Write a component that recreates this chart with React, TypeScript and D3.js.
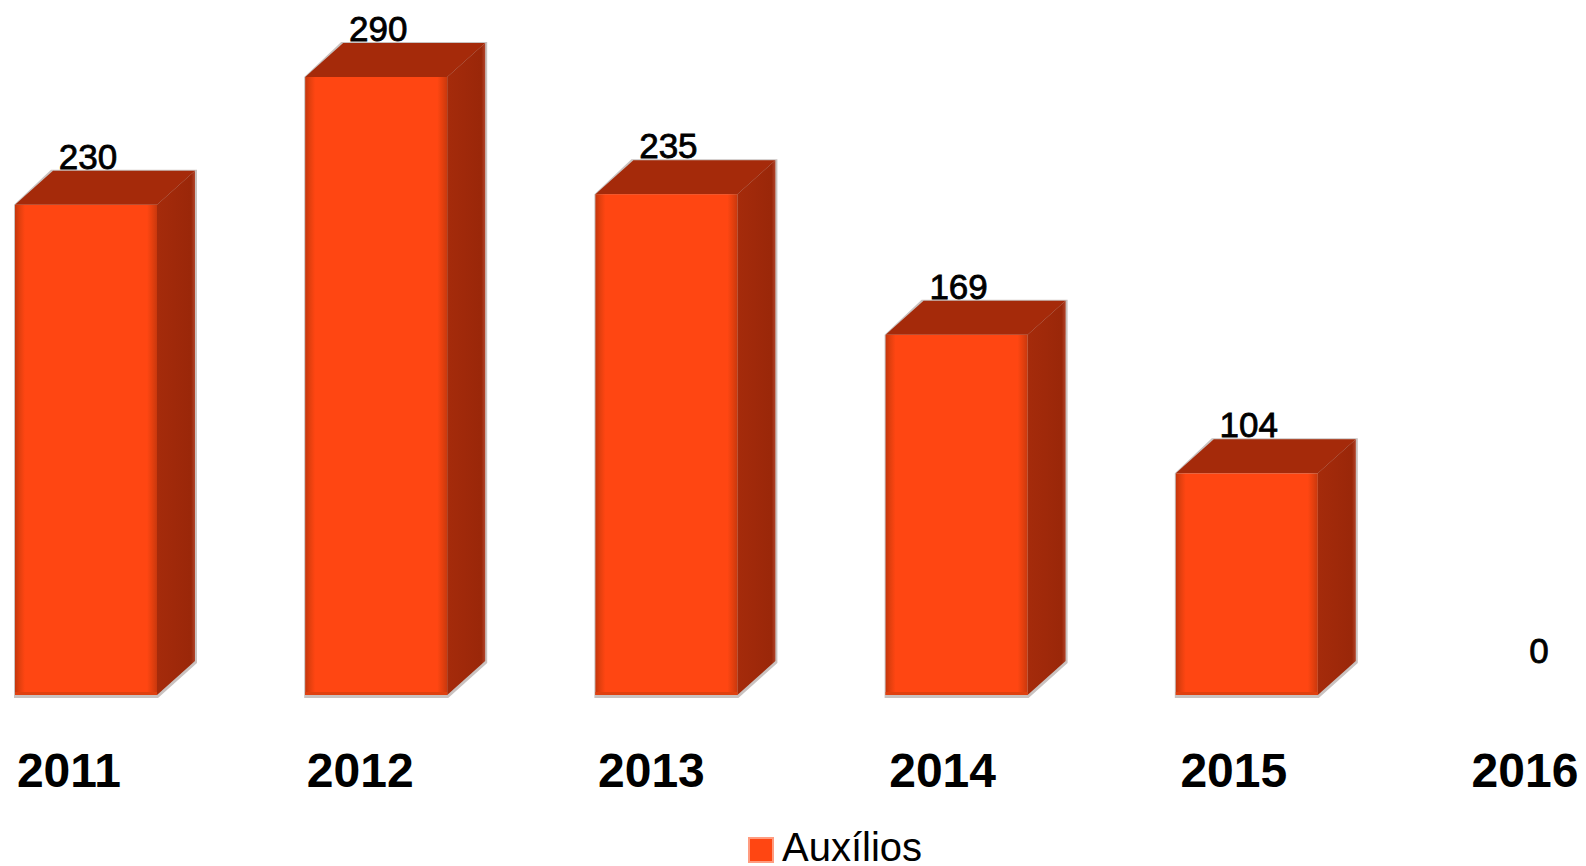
import React from "react";
import * as d3 from "d3";

const categories: string[] = ["2011", "2012", "2013", "2014", "2015", "2016"];
const values: number[] = [230, 290, 235, 169, 104, 0];
const seriesName = "Auxílios";

const W = 1586;
const H = 866;
const baseY = 695;
const depthX = 38;
const depthY = 34;

export default function App() {
  const x = d3
    .scaleBand<string>()
    .domain(categories)
    .range([15, 15 + 5 * 290.2 + 142])
    .paddingInner(1 - 142 / 290.2)
    .paddingOuter(0);
  const xl = d3.scalePoint<string>().domain(categories).range([69, 1525]);
  const y = d3.scaleLinear().domain([0, 290]).range([baseY, 77]);
  const bw = x.bandwidth();

  return (
    <svg
      width={W}
      height={H}
      style={{ position: "absolute", left: 0, top: 0, background: "#fff" }}
      fontFamily="'Liberation Sans', Arial, sans-serif"
    >
      <defs>
        <linearGradient id="front" x1="0" x2="1" y1="0" y2="0">
          <stop offset="0" stopColor="#C4360C" />
          <stop offset="0.035" stopColor="#E5400F" />
          <stop offset="0.07" stopColor="#FF4612" />
          <stop offset="0.93" stopColor="#FF4612" />
          <stop offset="0.965" stopColor="#E5400F" />
          <stop offset="1" stopColor="#C9380D" />
        </linearGradient>
        <linearGradient id="side" x1="0" x2="1" y1="0" y2="0">
          <stop offset="0" stopColor="#A52B0B" />
          <stop offset="0.9" stopColor="#9A2709" />
          <stop offset="1" stopColor="#B0442A" />
        </linearGradient>
      </defs>
      {categories.map((c, i) => {
        const v = values[i];
        const x0 = x(c) as number;
        const x1 = x0 + bw;
        const yt = y(v);
        const h = baseY - yt;
        return (
          <g key={c}>
            {v > 0 && (
              <g>
                <polygon
                  points={`${x0 - 1},${baseY + 3} ${x1 + 1},${baseY + 3} ${x1 + depthX + 2},${baseY - depthY + 2} ${x1 + depthX + 2},${yt - depthY - 1} ${x0 + depthX - 2},${yt - depthY - 1} ${x0 - 1},${yt}`}
                  fill="#c9c2c0"
                />
                <polygon
                  points={`${x0},${yt} ${x0 + depthX},${yt - depthY} ${x1 + depthX},${yt - depthY} ${x1},${yt}`}
                  fill="#A52A0A"
                />
                <polygon
                  points={`${x1},${yt} ${x1 + depthX},${yt - depthY} ${x1 + depthX},${baseY - depthY} ${x1},${baseY}`}
                  fill="url(#side)"
                />
                <rect x={x0} y={yt} width={bw} height={h} fill="url(#front)" />
                <rect x={x0} y={baseY - 3} width={bw} height={3} fill="#E0400F" />
              </g>
            )}
            <text
              x={x0 + bw / 2 + 2}
              y={yt - depthY - 2 + (v === 0 ? 4 : 0)}
              textAnchor="middle"
              fontSize={35}
              fill="#000"
              stroke="#000"
              strokeWidth={0.8}
            >
              {v}
            </text>
            <text
              x={xl(c) as number}
              y={787}
              textAnchor="middle"
              fontSize={48}
              fontWeight="bold"
              fill="#000"
            >
              {c}
            </text>
          </g>
        );
      })}
      <g>
        <rect x={748} y={837} width={26} height={26} fill="#FF9C80" />
        <rect x={750} y={839} width={22} height={22} fill="#FF4612" />
        <text x={782} y={861} fontSize={40} fill="#000">
          {seriesName}
        </text>
      </g>
    </svg>
  );
}
